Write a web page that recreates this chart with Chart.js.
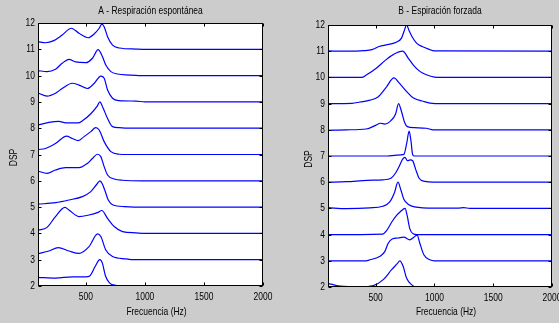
<!DOCTYPE html>
<html><head><meta charset="utf-8">
<script src="https://cdn.jsdelivr.net/npm/chart.js@4"></script>
<style>
html,body{margin:0;padding:0;background:#cccccc;width:559px;height:323px;overflow:hidden}
#wa{position:absolute;left:0;top:0;width:280px;height:323px}
#wb{position:absolute;left:280px;top:0;width:279px;height:323px}
canvas{display:block}
</style></head><body>
<div id="wa"><canvas id="ca" width="280" height="323"></canvas></div>
<div id="wb"><canvas id="cb" width="279" height="323"></canvas></div>
<script>
// ---- tick labels ----
const xTicks = [500, 1000, 1500, 2000];
const yTicks = [2, 3, 4, 5, 6, 7, 8, 9, 10, 11, 12];

// ---- Panel A: Respiración espontánea  [frequency Hz, DSP (stacked)] ----
const A2  = [[95,2.33],[243,2.30],[385,2.35],[500,2.35],[533,2.38],[580,2.75],[618,3.0],[640,2.87],[665,2.4],[700,2.12],[760,2.02],[790,2.0],[2000,2.0]];
const A3  = [[95,3.23],[187,3.33],[266,3.46],[357,3.33],[442,3.24],[527,3.50],[600,3.98],[627,3.88],[669,3.37],[726,3.12],[840,3.03],[900,3.0],[2000,3.0]];
const A4  = [[95,4.12],[172,4.23],[243,4.64],[323,4.99],[357,4.89],[442,4.64],[527,4.70],[598,4.79],[635,4.87],[684,4.57],[740,4.26],[811,4.07],[925,4.02],[1000,4.0],[2000,4.0]];
const A5  = [[95,5.11],[243,5.17],[357,5.27],[471,5.40],[542,5.59],[590,5.85],[620,6.0],[640,5.88],[660,5.65],[690,5.27],[730,5.08],[826,5.02],[1000,5.0],[2000,5.0]];
const A6  = [[95,6.37],[172,6.28],[243,6.41],[329,6.50],[442,6.50],[513,6.66],[556,6.85],[598,7.01],[627,6.92],[655,6.54],[684,6.22],[740,6.07],[811,6.02],[980,6.0],[2000,6.0]];
const A7  = [[95,7.19],[158,7.23],[243,7.42],[337,7.70],[385,7.61],[436,7.53],[485,7.68],[542,7.87],[584,8.02],[613,7.93],[655,7.49],[712,7.11],[783,7.01],[850,7.0],[2000,7.0]];
const A8  = [[95,8.12],[187,8.22],[272,8.26],[329,8.2],[433,8.2],[471,8.28],[542,8.55],[598,8.85],[618,9.0],[645,8.78],[684,8.37],[726,8.06],[783,8.02],[850,8.0],[2000,8.0]];
const A9  = [[95,9.34],[172,9.22],[243,9.33],[300,9.51],[385,9.71],[442,9.64],[513,9.51],[570,9.70],[627,9.98],[655,9.90],[684,9.45],[726,9.14],[783,9.05],[925,9.03],[1000,9.0],[2000,9.0]];
const A10 = [[95,10.19],[172,10.15],[243,10.24],[300,10.47],[357,10.62],[414,10.52],[499,10.49],[556,10.66],[604,10.99],[641,10.72],[669,10.40],[712,10.15],[769,10.06],[868,10.02],[950,10.0],[2000,10.0]];
const A11 = [[95,11.29],[158,11.25],[229,11.33],[300,11.54],[377,11.80],[442,11.61],[519,11.44],[570,11.58],[613,11.80],[635,11.96],[655,11.86],[684,11.48],[726,11.16],[783,11.05],[925,11.01],[1000,11.0],[2000,11.0]];

// ---- Panel B: Espiración forzada ----
const B2  = [[95,2.14],[198,2.03],[367,2.0],[480,2.05],[565,2.28],[636,2.66],[684,2.89],[706,3.0],[734,2.79],[763,2.34],[805,2.09],[848,2.0],[2000,2.0]];
const B3  = [[95,3.0],[420,3.0],[452,3.04],[537,3.17],[579,3.36],[607,3.67],[641,3.83],[692,3.87],[740,3.9],[791,3.8],[825,3.9],[853,3.98],[876,3.67],[910,3.23],[961,3.04],[1000,3.0],[2000,3.0]];
const B4  = [[95,4.0],[560,4.02],[593,4.15],[636,4.47],[678,4.73],[712,4.88],[750,5.0],[768,4.73],[791,4.22],[819,4.03],[850,4.0],[2000,4.0]];
const B5  = [[95,5.03],[250,4.99],[450,5.02],[560,5.08],[620,5.25],[660,5.6],[690,6.0],[715,5.7],[740,5.35],[780,5.15],[830,5.06],[1000,5.01],[1200,5.01],[1250,5.03],[1300,5.0],[2000,5.0]];
const B6  = [[95,6.0],[250,6.02],[430,6.07],[560,6.09],[630,6.15],[670,6.35],[700,6.6],[730,6.88],[750,6.95],[770,6.82],[795,6.85],[815,6.82],[840,6.5],[870,6.15],[920,6.03],[990,6.0],[2000,6.0]];
const B7  = [[95,7.0],[600,7.0],[680,7.03],[740,7.06],[765,7.5],[785,7.95],[800,7.6],[815,7.05],[830,7.0],[2000,7.0]];
const B8  = [[95,7.98],[250,8.0],[420,8.03],[500,8.17],[540,8.25],[580,8.22],[630,8.35],[670,8.6],[695,9.0],[720,8.7],[745,8.3],[770,8.12],[830,8.08],[930,8.06],[990,8.0],[2000,8.0]];
const B9  = [[95,9.0],[300,9.01],[367,9.06],[452,9.13],[520,9.25],[593,9.64],[655,9.98],[706,9.76],[766,9.45],[819,9.22],[904,9.09],[980,9.01],[1050,9.0],[2000,9.0]];
const B10 = [[95,10.0],[380,10.0],[424,10.1],[508,10.36],[579,10.64],[650,10.87],[730,11.0],[777,10.74],[819,10.48],[876,10.23],[932,10.1],[1000,10.01],[1050,10.0],[2000,10.0]];
const B11 = [[95,11.01],[250,11.0],[400,11.02],[470,11.06],[530,11.18],[600,11.25],[680,11.35],[720,11.5],[745,11.8],[763,12.0],[785,11.78],[810,11.55],[850,11.3],[900,11.17],[950,11.08],[1000,11.01],[2000,11.0]];

const FONT = "'Liberation Sans', Arial, Helvetica, sans-serif";
const SQUEEZE = 0.77;

function txt(ctx, s, x, y, align, rot) {
  ctx.save();
  ctx.translate(x, y);
  if (rot) ctx.rotate(rot);
  ctx.scale(SQUEEZE, 1);
  ctx.textAlign = align;
  ctx.textBaseline = 'middle';
  ctx.fillText(s, 0, 0);
  ctx.restore();
}

function makeDecor(cfg) {
  return {
    id: 'decor',
    beforeDraw(chart) {
      const {ctx, chartArea: a} = chart;
      ctx.save();
      ctx.fillStyle = '#ffffff';
      ctx.fillRect(a.left, a.top, a.right - a.left, a.bottom - a.top);
      ctx.restore();
    },
    afterDraw(chart) {
      const {ctx, chartArea: a, scales: {x, y}} = chart;
      ctx.save();
      ctx.strokeStyle = '#000'; ctx.lineWidth = 1;
      const L = Math.round(a.left) + 0.5, R = Math.round(a.right) - 0.5;
      const T = Math.round(a.top) + 0.5, B = Math.round(a.bottom) - 0.5;
      ctx.strokeRect(L, T, R - L, B - T);
      ctx.beginPath();
      xTicks.forEach(v => {
        const px = Math.round(x.getPixelForValue(v)) + 0.5;
        ctx.moveTo(px, B); ctx.lineTo(px, B - 3);
        ctx.moveTo(px, T); ctx.lineTo(px, T + 3);
      });
      yTicks.forEach(v => {
        const py = Math.round(y.getPixelForValue(v)) + 0.5;
        ctx.moveTo(L, py); ctx.lineTo(L + 3, py);
        ctx.moveTo(R, py); ctx.lineTo(R - 3, py);
      });
      ctx.stroke();
      ctx.fillStyle = '#000';
      ctx.font = '11px ' + FONT;
      // tick labels
      xTicks.forEach(v => txt(ctx, String(v), x.getPixelForValue(v), a.bottom + 11, 'center'));
      yTicks.forEach(v => txt(ctx, String(v), a.left - 3, y.getPixelForValue(v), 'right'));
      // titles
      txt(ctx, cfg.title, (a.left + a.right) / 2, 11, 'center');
      txt(ctx, cfg.xlabel, (a.left + a.right) / 2 + 6, 312, 'center');
      txt(ctx, cfg.ylabel, cfg.ylabelX, (a.top + a.bottom) / 2 + 3, 'center', -Math.PI / 2);
      ctx.restore();
    }
  };
}

function makeChart(id, sets, cfg) {
  return new Chart(document.getElementById(id), {
    type: 'line',
    data: {
      datasets: sets.map(s => ({
        data: s.map(([f, v]) => ({x: f, y: v})),
        borderColor: '#0000ff', borderWidth: 1.2, pointRadius: 0,
        cubicInterpolationMode: 'monotone', fill: false
      }))
    },
    options: {
      responsive: false, animation: false, events: [],
      layout: {padding: {top: cfg.top, right: cfg.right, left: 0, bottom: 0}},
      plugins: {legend: {display: false}, tooltip: {enabled: false}, title: {display: false}},
      scales: {
        x: {
          type: 'linear', min: 95, max: 2000,
          grid: {display: false, drawTicks: false}, border: {display: false},
          afterBuildTicks(s) { s.ticks = xTicks.map(v => ({value: v})); },
          ticks: {display: false},
          afterFit(s) { s.height = cfg.xh; s.paddingLeft = 0; s.paddingRight = 0; }
        },
        y: {
          type: 'linear', min: 2, max: 12,
          grid: {display: false, drawTicks: false}, border: {display: false},
          afterBuildTicks(s) { s.ticks = yTicks.map(v => ({value: v})); },
          ticks: {display: false},
          afterFit(s) { s.width = cfg.yw; s.paddingTop = 0; s.paddingBottom = 0; }
        }
      }
    },
    plugins: [makeDecor(cfg)]
  });
}

makeChart('ca', [A2, A3, A4, A5, A6, A7, A8, A9, A10, A11], {
  top: 23, right: 17, yw: 38, xh: 37, ylabelX: 13.5,
  title: 'A - Respiración espontánea', xlabel: 'Frecuencia (Hz)', ylabel: 'DSP'
});
makeChart('cb', [B2, B3, B4, B5, B6, B7, B8, B9, B10, B11], {
  top: 25, right: 7, yw: 48, xh: 36, ylabelX: 28.5,
  title: 'B - Espiración forzada', xlabel: 'Frecuencia (Hz)', ylabel: 'DSP'
});
</script>
</body></html>
